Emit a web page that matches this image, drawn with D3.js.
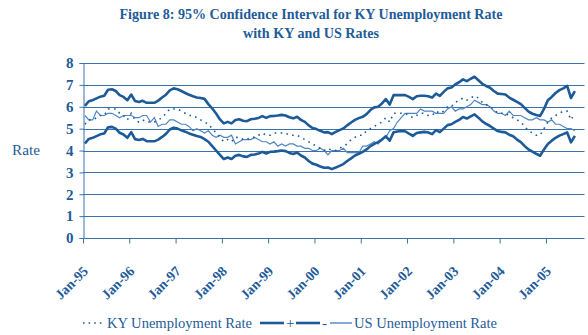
<!DOCTYPE html>
<html>
<head>
<meta charset="utf-8">
<script src="https://cdn.jsdelivr.net/npm/d3@7"></script>
<style>
  html, body { margin: 0; padding: 0; background: #ffffff; }
  svg { display: block; }
  text { font-family: "Liberation Serif", "Times New Roman", serif; fill: #1f5c99; }
</style>
</head>
<body>
<svg id="chart" width="588" height="335"></svg>
<script>
// Monthly rates, January 1995 through August 2005 (percent)
const kyRate = [
  5.2, 5.4, 5.4, 5.5, 5.6, 5.6, 5.9, 5.9, 5.9, 5.7, 5.6, 5.4,   // 1995
  5.7, 5.4, 5.3, 5.4, 5.3, 5.3, 5.3, 5.4, 5.5, 5.7, 5.9, 5.9,   // 1996
  5.9, 5.8, 5.7, 5.6, 5.6, 5.5, 5.4, 5.3, 5.2, 5.0, 4.8, 4.6,   // 1997
  4.4, 4.5, 4.4, 4.6, 4.6, 4.5, 4.5, 4.6, 4.6, 4.7, 4.8, 4.7,   // 1998
  4.7, 4.8, 4.8, 4.8, 4.8, 4.7, 4.7, 4.7, 4.6, 4.5, 4.4, 4.3,   // 1999
  4.2, 4.1, 4.0, 4.1, 4.0, 4.0, 4.1, 4.2, 4.3, 4.5, 4.6, 4.7,   // 2000
  4.7, 4.9, 5.0, 5.1, 5.2, 5.3, 5.5, 5.3, 5.7, 5.7, 5.7, 5.7,   // 2001
  5.6, 5.5, 5.6, 5.7, 5.7, 5.6, 5.6, 5.8, 5.7, 5.8, 6.0, 6.0,   // 2002
  6.2, 6.3, 6.4, 6.3, 6.4, 6.5, 6.4, 6.2, 6.1, 6.0, 5.9, 5.7,   // 2003
  5.7, 5.7, 5.6, 5.5, 5.4, 5.3, 5.1, 4.9, 4.8, 4.7, 4.7, 5.0,   // 2004
  5.3, 5.5, 5.6, 5.7, 5.8, 5.8, 5.4, 5.7                        // 2005
];
const upperBound = [
  6.04, 6.25, 6.30, 6.38, 6.46, 6.50, 6.78, 6.80, 6.72, 6.53, 6.45, 6.30,
  6.56, 6.26, 6.22, 6.27, 6.18, 6.18, 6.18, 6.28, 6.42, 6.55, 6.75, 6.84,
  6.80, 6.72, 6.63, 6.55, 6.48, 6.42, 6.40, 6.36, 6.12, 5.92, 5.69, 5.42,
  5.24, 5.31, 5.24, 5.39, 5.43, 5.36, 5.34, 5.43, 5.45, 5.49, 5.57, 5.49,
  5.57, 5.58, 5.60, 5.63, 5.60, 5.52, 5.47, 5.54, 5.40, 5.31, 5.15, 5.03,
  4.98, 4.90, 4.83, 4.84, 4.75, 4.85, 4.93, 5.01, 5.15, 5.28, 5.40, 5.48,
  5.54, 5.66, 5.85, 5.97, 6.00, 6.15, 6.35, 6.10, 6.53, 6.54, 6.53, 6.53,
  6.45, 6.35, 6.48, 6.50, 6.50, 6.48, 6.42, 6.60, 6.50, 6.68, 6.84, 6.88,
  7.02, 7.12, 7.25, 7.17, 7.28, 7.37, 7.21, 7.05, 6.95, 6.87, 6.72, 6.60,
  6.58, 6.56, 6.42, 6.32, 6.22, 6.12, 5.95, 5.78, 5.68, 5.62, 5.58, 5.90,
  6.30, 6.45, 6.63, 6.76, 6.84, 6.95, 6.40, 6.71
];
const lowerBound = [
  4.32, 4.53, 4.58, 4.66, 4.74, 4.78, 5.06, 5.08, 5.00, 4.81, 4.73, 4.58,
  4.84, 4.52, 4.48, 4.53, 4.43, 4.42, 4.42, 4.50, 4.62, 4.76, 4.96, 5.04,
  5.00, 4.92, 4.86, 4.78, 4.72, 4.66, 4.62, 4.52, 4.40, 4.20, 4.00, 3.80,
  3.61, 3.68, 3.61, 3.76, 3.80, 3.73, 3.71, 3.80, 3.82, 3.86, 3.94, 3.86,
  3.94, 3.95, 3.97, 4.00, 3.97, 3.89, 3.84, 3.91, 3.77, 3.68, 3.52, 3.40,
  3.35, 3.27, 3.21, 3.22, 3.15, 3.22, 3.30, 3.38, 3.52, 3.64, 3.77, 3.85,
  3.94, 4.05, 4.20, 4.30, 4.38, 4.50, 4.65, 4.45, 4.83, 4.87, 4.89, 4.88,
  4.77, 4.67, 4.80, 4.83, 4.85, 4.82, 4.75, 4.93, 4.84, 5.00, 5.16, 5.20,
  5.31, 5.40, 5.53, 5.46, 5.56, 5.65, 5.50, 5.33, 5.22, 5.12, 5.00, 4.89,
  4.85, 4.83, 4.72, 4.65, 4.50, 4.38, 4.20, 4.05, 3.95, 3.85, 3.76, 4.05,
  4.30, 4.45, 4.58, 4.68, 4.75, 4.83, 4.37, 4.67
];
const usRate = [
  5.6, 5.4, 5.4, 5.8, 5.6, 5.6, 5.7, 5.7, 5.6, 5.5, 5.6, 5.6,
  5.6, 5.5, 5.5, 5.6, 5.6, 5.3, 5.5, 5.1, 5.2, 5.2, 5.4, 5.4,
  5.3, 5.2, 5.2, 5.1, 4.9, 5.0, 4.9, 4.8, 4.9, 4.7, 4.6, 4.7,
  4.6, 4.6, 4.7, 4.3, 4.4, 4.5, 4.5, 4.5, 4.6, 4.5, 4.4, 4.4,
  4.3, 4.4, 4.2, 4.3, 4.2, 4.3, 4.3, 4.2, 4.2, 4.1, 4.1, 4.0,
  4.0, 4.1, 4.0, 3.8, 4.0, 4.0, 4.0, 4.1, 3.9, 3.9, 3.9, 3.9,
  4.2, 4.2, 4.3, 4.4, 4.3, 4.5, 4.6, 4.9, 5.0, 5.3, 5.5, 5.7,
  5.7, 5.7, 5.7, 5.9, 5.8, 5.8, 5.8, 5.7, 5.7, 5.7, 5.9, 6.0,
  5.8, 5.9, 5.9, 6.0, 6.1, 6.3, 6.2, 6.1, 6.1, 6.0, 5.8, 5.7,
  5.7, 5.6, 5.8, 5.6, 5.6, 5.6, 5.5, 5.4, 5.4, 5.5, 5.4, 5.4,
  5.3, 5.4, 5.2, 5.2, 5.1, 5.0, 5.0, 4.9
];
const tickLabels = ["Jan-95", "Jan-96", "Jan-97", "Jan-98", "Jan-99", "Jan-00",
                    "Jan-01", "Jan-02", "Jan-03", "Jan-04", "Jan-05"];
const yTicks = [0, 1, 2, 3, 4, 5, 6, 7, 8];
const titleLines = ["Figure 8: 95% Confidence Interval for KY Unemployment Rate",
                    "with KY and US Rates"];
const legendLabels = ["KY Unemployment Rate", "+", "-", "US Unemployment Rate"];

const dark = "#1c5a98";
const light = "#4f86c0";
const grid = "#3a71ab";
const nCategories = 130;   // monthly categories spanned by the axis

const svg = d3.select("#chart");
const x = d3.scaleLinear().domain([0, nCategories]).range([83, 584.5]);
const y = d3.scaleLinear().domain([0, 8]).range([238, 63]);

// Title
svg.selectAll("text.title").data(titleLines).join("text")
  .attr("class", "title")
  .attr("x", 311).attr("y", (d, i) => 19 + i * 19)
  .attr("text-anchor", "middle")
  .attr("font-size", 14.5).attr("font-weight", "bold")
  .attr("textLength", (d, i) => i === 0 ? 383 : 136)
  .attr("lengthAdjust", "spacingAndGlyphs")
  .text(d => d);

// Horizontal gridlines
svg.append("g").selectAll("line").data(yTicks.filter(v => v > 0)).join("line")
  .attr("x1", x(0)).attr("x2", x(nCategories))
  .attr("y1", d => Math.round(y(d)) + 0.5).attr("y2", d => Math.round(y(d)) + 0.5)
  .attr("stroke", grid).attr("stroke-width", 1);

// Y axis
const yAxis = svg.append("g").attr("transform", "translate(83.5,0)")
  .call(d3.axisLeft(y).tickValues(yTicks).tickSize(4).tickPadding(6).tickFormat(d3.format("d")));
yAxis.selectAll("path, line").attr("stroke", grid);
yAxis.selectAll("text").attr("font-size", 15).attr("font-weight", "bold")
  .attr("font-family", "Liberation Serif").attr("fill", "#1f5c99");

// X axis
const xAxis = svg.append("g").attr("transform", "translate(0,238.5)")
  .call(d3.axisBottom(x).tickValues(d3.range(0, 121, 12)).tickSize(5).tickSizeOuter(0).tickFormat(""));
xAxis.selectAll("path, line").attr("stroke", grid);
xAxis.select("path").attr("d", `M${x(0)},0H${x(nCategories)}`);

svg.append("g").selectAll("text").data(tickLabels).join("text")
  .attr("transform", (d, i) => `translate(${x(i * 12) + 6},${272}) rotate(-45)`)
  .attr("text-anchor", "end")
  .attr("font-size", 14).attr("font-weight", "bold")
  .attr("textLength", 40).attr("lengthAdjust", "spacingAndGlyphs")
  .text(d => d);

// Y axis title
svg.append("text").attr("x", 12).attr("y", 155)
  .attr("font-size", 15).attr("textLength", 28).attr("lengthAdjust", "spacingAndGlyphs")
  .text("Rate");

// Series lines
const line = d3.line().x((d, i) => x(i + 0.5)).y(d => y(d));
svg.append("path").datum(usRate).attr("d", line)
  .attr("fill", "none").attr("stroke", light).attr("stroke-width", 1.2);
svg.append("path").datum(kyRate).attr("d", line)
  .attr("fill", "none").attr("stroke", dark).attr("stroke-width", 1.6)
  .attr("stroke-dasharray", "1.6,4.4");
[upperBound, lowerBound].forEach(s => {
  svg.append("path").datum(s).attr("d", line)
    .attr("fill", "none").attr("stroke", dark).attr("stroke-width", 2.6)
    .attr("stroke-linejoin", "round");
});

// Legend
const lg = svg.append("g");
const ly = 323;
lg.append("line").attr("x1", 83).attr("x2", 104).attr("y1", ly).attr("y2", ly)
  .attr("stroke", dark).attr("stroke-width", 1.6).attr("stroke-dasharray", "1.6,4");
lg.append("text").attr("x", 107).attr("y", ly + 5).attr("font-size", 15)
  .attr("textLength", 145).attr("lengthAdjust", "spacingAndGlyphs").text(legendLabels[0]);
lg.append("line").attr("x1", 260).attr("x2", 284).attr("y1", ly).attr("y2", ly)
  .attr("stroke", dark).attr("stroke-width", 2.6);
lg.append("text").attr("x", 286).attr("y", ly + 5).attr("font-size", 15).text(legendLabels[1]);
lg.append("line").attr("x1", 296).attr("x2", 320).attr("y1", ly).attr("y2", ly)
  .attr("stroke", dark).attr("stroke-width", 2.6);
lg.append("text").attr("x", 322).attr("y", ly + 5).attr("font-size", 15).text(legendLabels[2]);
lg.append("line").attr("x1", 330).attr("x2", 352).attr("y1", ly).attr("y2", ly)
  .attr("stroke", light).attr("stroke-width", 1.4);
lg.append("text").attr("x", 354).attr("y", ly + 5).attr("font-size", 15)
  .attr("textLength", 143).attr("lengthAdjust", "spacingAndGlyphs").text(legendLabels[3]);
</script>
</body>
</html>
